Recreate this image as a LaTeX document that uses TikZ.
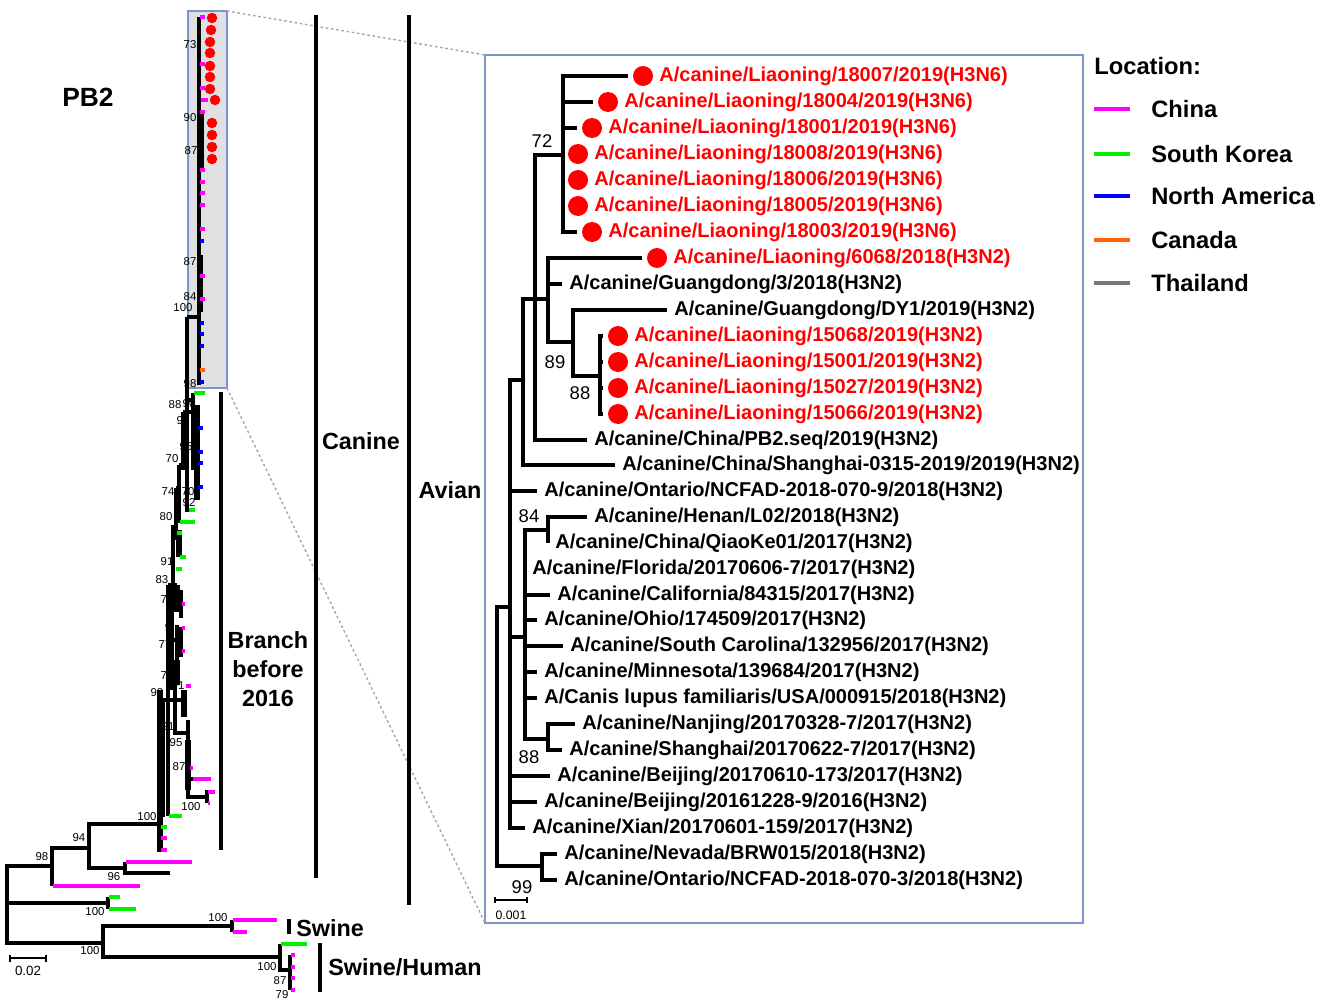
\documentclass[tikz,border=0pt]{standalone}
\usepackage{fontspec}
\setmainfont{Liberation Sans}
\definecolor{cnclr}{RGB}{255,0,255}
\definecolor{skclr}{RGB}{0,240,0}
\definecolor{naclr}{RGB}{0,0,255}
\definecolor{caclr}{RGB}{255,102,0}
\definecolor{thclr}{RGB}{120,120,120}
\definecolor{boxclr}{RGB}{125,150,200}
\definecolor{shade}{RGB}{224,224,226}
\tikzset{
br/.style={line width=2.6pt},
lt/.style={line width=1.9pt},
thk/.style={line width=3pt},
cn/.style={lt,draw=cnclr},
sk/.style={lt,draw=skclr},
na/.style={lt,draw=naclr},
ca/.style={lt,draw=caclr},
tip/.style={anchor=west,inner sep=0pt,font=\fontsize{11.4}{12}\selectfont\bfseries},
rtip/.style={tip,text=red},
bigdot/.style={circle,fill=red,inner sep=0pt,minimum size=0.4cm},
smalldot/.style={circle,fill=red,inner sep=0pt,minimum size=0.21cm},
bs/.style={inner sep=0pt,font=\fontsize{10.5}{12}\selectfont},
sbs/.style={inner sep=0pt,font=\fontsize{6.5}{7}\selectfont},
grp/.style={inner sep=0pt,font=\fontsize{13.3}{16.4}\selectfont\bfseries},
lgd/.style={anchor=west,inner sep=0pt,font=\fontsize{13.5}{16}\selectfont\bfseries}
}
\newcommand{\leaf}[5]{\coordinate (#1) at (#3,#4);
  \draw[br] (#2) |- (#1);
  \node[tip] (#1t) at (#3+7,#4) {#5};}
\newcommand{\rleaf}[5]{\coordinate (#1) at (#3,#4);
  \draw[br] (#2) |- (#1);
  \node[bigdot] (#1d) at (#3+15,#4) {};
  \node[rtip] (#1t) at (#3+31,#4) {#5};}

\begin{document}
\begin{tikzpicture}[x=0.02cm,y=-0.02cm]
\useasboundingbox (0,0) rectangle (1325,1004);

% boxes and zoom lines
\coordinate (sb1) at (188,11);
\coordinate (sb2) at (227,388);
\coordinate (bb1) at (485,55);
\coordinate (bb2) at (1083,923);
\draw[boxclr,fill=shade,line width=0.8pt] (sb1) rectangle (sb2);
\draw[boxclr,line width=0.8pt] (bb1) rectangle (bb2);
\draw[gray!70,line width=0.8pt,dash pattern=on 1.5pt off 1.5pt] (sb2 |- sb1) -- (bb1);
\draw[gray!70,line width=0.8pt,dash pattern=on 1.5pt off 1.5pt] (sb2) -- (bb1 |- bb2);

% full tree, outgroups
\coordinate (root) at (7,903);
\coordinate (r98) at (52,866);
\coordinate (r94) at (89,848);
\coordinate (r96) at (125,868);
\coordinate (r100c) at (160,824);
\coordinate (r100k) at (108,903);
\coordinate (r100s) at (103,943);
\coordinate (r100p) at (232,926);
\coordinate (r100h) at (280,957);
\draw[lt] (root) |- (r98);
\draw[lt] (root) |- (r100k);
\draw[lt] (root) |- (r100s);
\draw[lt] (r98) |- (r94);
\draw[lt] (r98) -- (52,886);
\draw[cn] (53,886) -- (140,886);
\draw[lt] (r94) |- (r100c);
\draw[lt] (r94) |- (r96);
\draw[lt] (125,862) -- (125,873) -- (170,873);
\draw[cn] (126,862) -- (192,862);
\draw[lt] (108,897) -- (108,909);
\draw[sk] (109,897) -- (120,897);
\draw[sk] (109,909) -- (136,909);
\draw[lt] (r100s) |- (r100p);
\draw[lt] (r100s) |- (r100h);
\draw[lt] (232,920) -- (232,932);
\draw[cn] (233,920) -- (277,920);
\draw[cn] (233,932) -- (247,932);
\draw[lt] (280,944) -- (280,970) -- (290,970);
\draw[sk] (281,944) -- (307,944);
\draw[lt] (290,955) -- (290,990);
\foreach \y in {955,967,978,990} \draw[cn] (291,\y) -- (295,\y);

% canine clade
\draw[thk] (160,690) -- (160,852);
\draw[sk] (161,827) -- (167,827);
\draw[cn] (161,838) -- (167,838);
\draw[cn] (161,850) -- (167,850);
\draw[lt] (160,700) -- (175,700);
\draw[lt] (163,700) -- (163,817);
\draw[lt] (168,585) -- (168,816);
\draw[sk] (169,816) -- (182,816);
\draw[lt] (175,680) -- (175,733) -- (188,733);
\draw[thk] (184,690) -- (184,717);
\draw[lt] (175,700) -- (184,700);
\draw[lt] (188,720) -- (188,797) -- (207,797);
\draw[thk] (188,740) -- (188,790);
\draw[cn] (190,768) -- (193,768);
\draw[lt] (188,779) -- (193,779);
\draw[cn] (193,779) -- (211,779);
\draw[lt] (207,790) -- (207,803);
\draw[cn] (208,792) -- (215,792);
\draw[cn] (208,803) -- (210,803);
\draw[cn] (186,686) -- (191,686);
\draw[lt] (172,585) -- (172,690);
\draw[lt] (168,585) -- (177,585);
\draw[thk] (177,585) -- (177,612);
\draw[lt] (177,598) -- (181,598);
\draw[lt] (181,590) -- (181,618);
\draw[cn] (182,604) -- (185,604);
\draw[lt] (172,640) -- (181,640);
\draw[lt] (177,625) -- (177,660);
\draw[lt] (181,627) -- (181,657);
\draw[cn] (182,628) -- (185,628);
\draw[cn] (182,651) -- (185,651);
\draw[thk] (177,660) -- (177,685);
\draw[lt] (173,525) -- (173,585);
\draw[lt] (176,488) -- (176,540);
\draw[lt] (176,488) -- (179,488);
\draw[lt] (179,465) -- (179,523);
\draw[lt] (179,465) -- (183,465);
\draw[lt] (183,412) -- (183,470);
\draw[lt] (183,412) -- (193,412);
\draw[thk] (179,530) -- (179,557);
\draw[sk] (180,557) -- (186,557);
\draw[sk] (176,569) -- (182,569);
\draw[sk] (177,533) -- (182,533);
\draw[sk] (180,522) -- (195,522);
\draw[sk] (188,510) -- (195,510);
\draw[lt] (187,317) -- (187,512);
\draw[lt] (187,400) -- (193,400);
\draw[lt] (193,393) -- (193,470);
\draw[sk] (194,393) -- (205,393);
\draw[thk] (197,405) -- (197,500);
\foreach \y in {428,452,463,487} \draw[na] (198,\y) -- (203,\y);

% boxed clade
\draw[lt] (187,317) -- (199,317);
\draw[lt] (199,17) -- (199,385);
\draw[thk] (201,112) -- (201,168);
\draw[thk] (200,255) -- (200,312);
\foreach \y in {17,64,88,112,170,182,193,205,229,276,299} \draw[cn] (200,\y) -- (205,\y);
\draw[cn] (201,100) -- (208,100);
\foreach \y in {241,323,334,346,382} \draw[na] (200,\y) -- (204,\y);
\draw[ca] (200,370) -- (205,370);
\foreach \x/\y [count=\i] in {212/18,211/30,210/42,210/53,210/66,210/77,210/89,215/100,212/123,212/135,212/147,212/159}
  \node[smalldot] (sd\i) at (\x,\y) {};

% bootstrap values, full tree
\foreach \x/\y/\t [count=\i] in {190/45/73,190/118/90,191/151/87,190/262/87,190/297/84,183/308/100,
  190/384/98,175/405/88,189/404/90,183/421/93,186/447/95,172/459/70,168/492/74,188/492/70,189/503/92,
  166/517/80,167/562/91,162/580/83,167/600/73,168/628/9,165/645/77,167/676/73,178/686/91,157/693/98,
  168/727/91,176/743/95,179/767/87,191/807/100,147/817/100,79/838/94,42/857/98,114/877/96,
  95/912/100,90/951/100,218/918/100,267/967/100,280/981/87,282/995/79}
  \node[sbs] (bv\i) at (\x,\y) {\t};

% scale, full tree
\coordinate (s1) at (10,958);
\coordinate (s2) at (46,958);
\draw[line width=1.3pt] (s1) -- (s2);
\draw[line width=1.3pt] ([yshift=0.07cm]s1) -- ([yshift=-0.07cm]s1);
\draw[line width=1.3pt] ([yshift=0.07cm]s2) -- ([yshift=-0.07cm]s2);
\node[inner sep=0pt,font=\fontsize{7.6}{8}\selectfont] (s0) at (28,971) {0.02};

% group bars
\draw[lt] (221,392) -- (221,850);
\draw[lt] (316,15) -- (316,878);
\draw[lt] (409,15) -- (409,905);
\draw[lt] (289,919) -- (289,934);
\draw[lt] (320,943) -- (320,992);
\node[grp,font=\fontsize{15}{18}\selectfont\bfseries] (pb2) at (88,97) {PB2};
\node[grp] (can) at (361,441) {Canine};
\node[grp] (avi) at (450,490) {Avian};
\node[grp,align=center] (bra) at (268,669) {Branch\\before\\2016};
\node[grp,anchor=west] (swi) at (296,928) {Swine};
\node[grp,anchor=west] (swh) at (328,967) {Swine/Human};

% zoomed tree
\coordinate (R) at (497,736);
\coordinate (nA) at (510,607);
\coordinate (nB) at (523,380);
\coordinate (nD) at (535,299);
\coordinate (n72) at (563,155);
\coordinate (n89) at (548,299);
\coordinate (nE) at (573,342);
\coordinate (nF) at (600,376);
\coordinate (nC) at (525,637);
\coordinate (n84) at (548,530);
\coordinate (n88) at (548,739);
\coordinate (n99) at (542,866);
\draw[br] (R) |- (nA);
\draw[br] (R) |- (n99);
\draw[br] (nA) |- (nB);
\draw[br] (nA) |- (nC);
\draw[br] (nB) |- (nD);
\draw[br] (nD) |- (n72);
\draw[br] (nD) -- (n89);
\draw[br] (n89) |- (nE);
\draw[br] (nE) |- (nF);
\draw[br] (nC) |- (n84);
\draw[br] (nC) |- (n88);
\rleaf{l1}{n72}{628}{76}{A/canine/Liaoning/18007/2019(H3N6)}
\rleaf{l2}{n72}{593}{102}{A/canine/Liaoning/18004/2019(H3N6)}
\rleaf{l3}{n72}{577}{128}{A/canine/Liaoning/18001/2019(H3N6)}
\rleaf{l4}{n72}{563}{154}{A/canine/Liaoning/18008/2019(H3N6)}
\rleaf{l5}{n72}{563}{180}{A/canine/Liaoning/18006/2019(H3N6)}
\rleaf{l6}{n72}{563}{206}{A/canine/Liaoning/18005/2019(H3N6)}
\rleaf{l7}{n72}{577}{232}{A/canine/Liaoning/18003/2019(H3N6)}
\rleaf{l8}{n89}{642}{258}{A/canine/Liaoning/6068/2018(H3N2)}
\leaf{l9}{n89}{562}{284}{A/canine/Guangdong/3/2018(H3N2)}
\leaf{l10}{nE}{667}{310}{A/canine/Guangdong/DY1/2019(H3N2)}
\rleaf{l11}{nF}{603}{336}{A/canine/Liaoning/15068/2019(H3N2)}
\rleaf{l12}{nF}{603}{362}{A/canine/Liaoning/15001/2019(H3N2)}
\rleaf{l13}{nF}{603}{388}{A/canine/Liaoning/15027/2019(H3N2)}
\rleaf{l14}{nF}{603}{414}{A/canine/Liaoning/15066/2019(H3N2)}
\leaf{l15}{nD}{587}{440}{A/canine/China/PB2.seq/2019(H3N2)}
\leaf{l16}{nB}{615}{465}{A/canine/China/Shanghai-0315-2019/2019(H3N2)}
\leaf{l17}{nA}{537}{491}{A/canine/Ontario/NCFAD-2018-070-9/2018(H3N2)}
\leaf{l18}{n84}{587}{517}{A/canine/Henan/L02/2018(H3N2)}
\leaf{l19}{n84}{548}{543}{A/canine/China/QiaoKe01/2017(H3N2)}
\leaf{l20}{nC}{525}{569}{A/canine/Florida/20170606-7/2017(H3N2)}
\leaf{l21}{nC}{550}{595}{A/canine/California/84315/2017(H3N2)}
\leaf{l22}{nC}{537}{620}{A/canine/Ohio/174509/2017(H3N2)}
\leaf{l23}{nC}{563}{646}{A/canine/South Carolina/132956/2017(H3N2)}
\leaf{l24}{nC}{537}{672}{A/canine/Minnesota/139684/2017(H3N2)}
\leaf{l25}{nC}{537}{698}{A/Canis lupus familiaris/USA/000915/2018(H3N2)}
\leaf{l26}{n88}{575}{724}{A/canine/Nanjing/20170328-7/2017(H3N2)}
\leaf{l27}{n88}{562}{750}{A/canine/Shanghai/20170622-7/2017(H3N2)}
\leaf{l28}{nA}{550}{776}{A/canine/Beijing/20170610-173/2017(H3N2)}
\leaf{l29}{nA}{537}{802}{A/canine/Beijing/20161228-9/2016(H3N2)}
\leaf{l30}{nA}{525}{828}{A/canine/Xian/20170601-159/2017(H3N2)}
\leaf{l31}{n99}{557}{854}{A/canine/Nevada/BRW015/2018(H3N2)}
\leaf{l32}{n99}{557}{880}{A/canine/Ontario/NCFAD-2018-070-3/2018(H3N2)}
\node[bs] (b72) at (542,141) {72};
\node[bs] (b89) at (555,362) {89};
\node[bs] (b88a) at (580,393) {88};
\node[bs] (b84) at (529,516) {84};
\node[bs] (b88b) at (529,757) {88};
\node[bs] (b99) at (522,887) {99};

% scale, zoomed tree
\coordinate (z1) at (495,900);
\coordinate (z2) at (527,900);
\draw[line width=1.3pt] (z1) -- (z2);
\draw[line width=1.3pt] ([yshift=0.06cm]z1) -- ([yshift=-0.06cm]z1);
\draw[line width=1.3pt] ([yshift=0.06cm]z2) -- ([yshift=-0.06cm]z2);
\node[inner sep=0pt,font=\fontsize{7}{8}\selectfont] (z0) at (511,915) {0.001};

% legend
\node[lgd] (loc) at (1094,66) {Location:};
\foreach \y/\c/\t [count=\i] in {109/cnclr/China,154/skclr/South Korea,196/naclr/North America,240/caclr/Canada,283/thclr/Thailand}{
  \draw[line width=1.8pt,\c] (1094,\y) -- (1130,\y);
  \node[lgd] (lg\i) at (1151,\y) {\t};}
\end{tikzpicture}
\end{document}
